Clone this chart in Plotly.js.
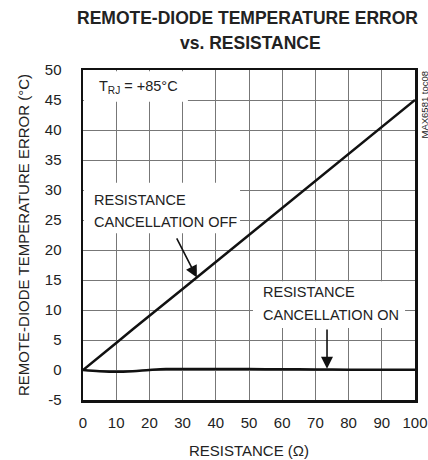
<!DOCTYPE html>
<html>
<head>
<meta charset="utf-8">
<script src="https://cdn.plot.ly/plotly-3.0.1.min.js"></script>
<style>html,body{margin:0;padding:0;background:#fff;}#chart{width:428px;height:460px;}</style>
</head>
<body>
<div id="chart"></div>
<script>
// Resistance (ohms)
const resistance = [0, 5, 10, 15, 20, 25, 30, 40, 50, 60, 70, 80, 90, 100];
// Temperature error, cancellation OFF (°C)
const errorOff = [0, 2.2, 4.5, 6.8, 9.0, 11.3, 13.5, 18.0, 22.5, 27.0, 31.5, 36.0, 40.5, 45.0];
// Temperature error, cancellation ON (°C)
const errorOn = [0, -0.2, -0.3, -0.2, 0.0, 0.15, 0.15, 0.15, 0.15, 0.12, 0.1, 0.05, 0.05, 0.05];
const xTicks = [0, 10, 20, 30, 40, 50, 60, 70, 80, 90, 100];
const yTicks = [-5, 0, 5, 10, 15, 20, 25, 30, 35, 40, 45, 50];

const FONT = "'Liberation Sans', Arial, sans-serif";
const INK = '#222';

const traces = [
  {x: resistance, y: errorOff, mode: 'lines', line: {color: '#111', width: 2.5}, hoverinfo: 'skip'},
  {x: resistance, y: errorOn, mode: 'lines', line: {color: '#111', width: 2.5, shape: 'spline'}, hoverinfo: 'skip'}
];

function label(text, x, y, extra) {
  return Object.assign({
    text: text, xref: 'x', yref: 'y', x: x, y: y,
    xanchor: 'left', yanchor: 'middle', showarrow: false,
    font: {family: FONT, size: 14.5, color: INK}
  }, extra || {});
}
function whiteBox(x0, x1, y0, y1) {
  return {type: 'rect', xref: 'x', yref: 'y', x0: x0, x1: x1, y0: y0, y1: y1,
          fillcolor: '#fff', line: {width: 0}, layer: 'between'};
}

const layout = {
  width: 428, height: 460,
  margin: {l: 83, r: 13, t: 70, b: 60},
  paper_bgcolor: '#fff', plot_bgcolor: '#fff',
  showlegend: false,
  font: {family: FONT, color: INK, size: 15},
  xaxis: {
    range: [0, 100], tickvals: xTicks, ticktext: xTicks.map(String),
    showgrid: true, gridcolor: '#777', gridwidth: 1,
    showline: true, linecolor: '#111', linewidth: 2.5, mirror: true,
    zeroline: false, ticks: 'outside', ticklen: 7, tickcolor: 'rgba(0,0,0,0)',
    ticklabeloverflow: 'allow', automargin: false,
    tickfont: {family: FONT, size: 15, color: INK},
    title: {text: 'RESISTANCE (Ω)', font: {family: FONT, size: 15, color: INK}, standoff: 16},
    fixedrange: true
  },
  yaxis: {
    range: [-5, 50], tickvals: yTicks, ticktext: yTicks.map(String),
    showgrid: true, gridcolor: '#777', gridwidth: 1,
    showline: true, linecolor: '#111', linewidth: 2.5, mirror: true,
    zeroline: false, ticks: 'outside', ticklen: 16, tickcolor: 'rgba(0,0,0,0)',
    automargin: false,
    tickfont: {family: FONT, size: 15, color: INK},
    title: {text: 'REMOTE-DIODE TEMPERATURE ERROR (°C)', font: {family: FONT, size: 15, color: INK}, standoff: 12},
    fixedrange: true
  },
  shapes: [
    whiteBox(0.3, 31.6, 44.7, 49.8),
    whiteBox(0.3, 47.3, 22.8, 31.2),
    whiteBox(51.2, 97.0, 7.0, 14.8)
  ],
  annotations: [
    {text: '<b>REMOTE-DIODE TEMPERATURE ERROR</b>', xref: 'paper', yref: 'paper', x: 0.5, y: 1,
     xanchor: 'center', yanchor: 'middle', xshift: -2, yshift: 52, showarrow: false,
     font: {family: FONT, size: 17.5, color: INK}},
    {text: '<b>vs. RESISTANCE</b>', xref: 'paper', yref: 'paper', x: 0.5, y: 1,
     xanchor: 'center', yanchor: 'middle', xshift: 1, yshift: 27, showarrow: false,
     font: {family: FONT, size: 17.5, color: INK}},
    label('T<sub>RJ</sub> = +85°C', 4.2, 47.2),
    label('RESISTANCE', 2.7, 28.3),
    label('CANCELLATION OFF', 2.7, 24.7),
    label('RESISTANCE', 53.6, 13.0),
    label('CANCELLATION ON', 53.6, 9.1),
    {
      text: '', xref: 'x', yref: 'y', axref: 'x', ayref: 'y',
      x: 34.3, y: 15.4, ax: 28, ay: 22.2,
      showarrow: true, arrowhead: 2, arrowsize: 1.5, arrowwidth: 1.6, arrowcolor: '#111'
    },
    {
      text: '', xref: 'x', yref: 'y', axref: 'x', ayref: 'y',
      x: 73.5, y: 0.2, ax: 73.5, ay: 7,
      showarrow: true, arrowhead: 2, arrowsize: 1.5, arrowwidth: 1.6, arrowcolor: '#111'
    },
    {
      text: 'MAX6581 toc08', xref: 'paper', yref: 'paper', x: 1, y: 1,
      xanchor: 'left', yanchor: 'top', xshift: 1, yshift: 1, textangle: -90, showarrow: false,
      font: {family: FONT, size: 9.5, color: INK}
    }
  ]
};

Plotly.newPlot('chart', traces, layout, {staticPlot: true, displayModeBar: false});
</script>
</body>
</html>
